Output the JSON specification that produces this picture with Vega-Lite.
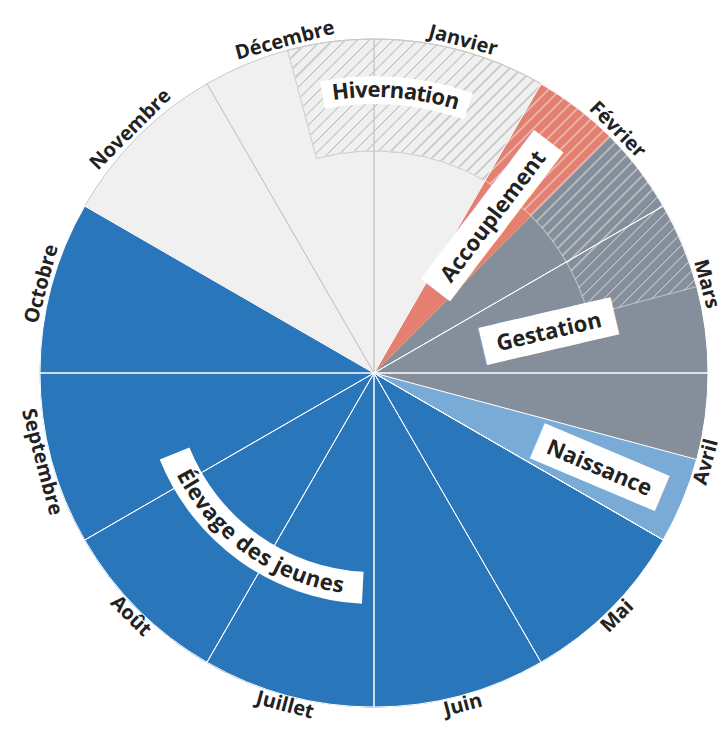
{
  "$schema": "https://vega.github.io/schema/vega-lite/v6.json",
  "width": 706,
  "height": 728,
  "autosize": {"type": "none"},
  "padding": {"left": 21, "top": 9, "right": 0, "bottom": 0},
  "background": "white",
  "config": {"view": {"stroke": null}},
  "resolve": {"scale": {"angle": "independent"}},
  "datasets": {
    "phases": [
      {"phase": "Repos", "start": 10, "end": 13},
      {"phase": "Élevage des jeunes", "start": 4, "end": 10},
      {"phase": "Naissance", "start": 3.5, "end": 4},
      {"phase": "Gestation", "start": 1.5, "end": 3.5},
      {"phase": "Accouplement", "start": 1, "end": 1.5}
    ],
    "hiver": [
      {"phase": "Hivernation", "start": -0.5, "end": 2.5, "inner": 0.665, "outer": 1}
    ],
    "months": [
      {"mois": "Janvier", "start": 0, "end": 1, "mid": 0.5},
      {"mois": "Février", "start": 1, "end": 2, "mid": 1.5},
      {"mois": "Mars", "start": 2, "end": 3, "mid": 2.5},
      {"mois": "Avril", "start": 3, "end": 4, "mid": 3.5},
      {"mois": "Mai", "start": 4, "end": 5, "mid": 4.5},
      {"mois": "Juin", "start": 5, "end": 6, "mid": 5.5},
      {"mois": "Juillet", "start": 6, "end": 7, "mid": 6.5},
      {"mois": "Août", "start": 7, "end": 8, "mid": 7.5},
      {"mois": "Septembre", "start": 8, "end": 9, "mid": 8.5},
      {"mois": "Octobre", "start": 9, "end": 10, "mid": 9.5},
      {"mois": "Novembre", "start": 10, "end": 11, "mid": 10.5},
      {"mois": "Décembre", "start": 11, "end": 12, "mid": 11.5}
    ],
    "bandeaux": [
      {"label": "Hivernation", "start": -0.35, "end": 0.65, "inner": 0.805, "outer": 0.888},
      {"label": "Élevage des jeunes", "start": 6.1, "end": 8.267, "inner": 0.596, "outer": 0.692}
    ],
    "etiquettes": [
      {"texte": "Accouplement", "t": 1.245, "r": 0.589},
      {"texte": "Gestation", "t": 2.562, "r": 0.538},
      {"texte": "Naissance", "t": 3.763, "r": 0.732}
    ],
    "lettres": [
      {"mot": "Hivernation", "lettre": "H", "t": -0.2259, "r": 0.847},
      {"mot": "Hivernation", "lettre": "i", "t": -0.1475, "r": 0.847},
      {"mot": "Hivernation", "lettre": "v", "t": -0.0854, "r": 0.847},
      {"mot": "Hivernation", "lettre": "e", "t": -0.0003, "r": 0.847},
      {"mot": "Hivernation", "lettre": "r", "t": 0.0754, "r": 0.847},
      {"mot": "Hivernation", "lettre": "n", "t": 0.1557, "r": 0.847},
      {"mot": "Hivernation", "lettre": "a", "t": 0.2489, "r": 0.847},
      {"mot": "Hivernation", "lettre": "t", "t": 0.3222, "r": 0.847},
      {"mot": "Hivernation", "lettre": "i", "t": 0.3719, "r": 0.847},
      {"mot": "Hivernation", "lettre": "o", "t": 0.4394, "r": 0.847},
      {"mot": "Hivernation", "lettre": "n", "t": 0.5345, "r": 0.847},
      {"mot": "Élevage des jeunes", "lettre": "É", "t": 8.0417, "r": 0.644},
      {"mot": "Élevage des jeunes", "lettre": "l", "t": 7.957, "r": 0.644},
      {"mot": "Élevage des jeunes", "lettre": "e", "t": 7.8717, "r": 0.644},
      {"mot": "Élevage des jeunes", "lettre": "v", "t": 7.7597, "r": 0.644},
      {"mot": "Élevage des jeunes", "lettre": "a", "t": 7.647, "r": 0.644},
      {"mot": "Élevage des jeunes", "lettre": "g", "t": 7.5317, "r": 0.644},
      {"mot": "Élevage des jeunes", "lettre": "e", "t": 7.417, "r": 0.644},
      {"mot": "Élevage des jeunes", "lettre": "d", "t": 7.2423, "r": 0.644},
      {"mot": "Élevage des jeunes", "lettre": "e", "t": 7.121, "r": 0.644},
      {"mot": "Élevage des jeunes", "lettre": "s", "t": 7.013, "r": 0.644},
      {"mot": "Élevage des jeunes", "lettre": "j", "t": 6.8823, "r": 0.644},
      {"mot": "Élevage des jeunes", "lettre": "e", "t": 6.797, "r": 0.644},
      {"mot": "Élevage des jeunes", "lettre": "u", "t": 6.6753, "r": 0.644},
      {"mot": "Élevage des jeunes", "lettre": "n", "t": 6.5477, "r": 0.644},
      {"mot": "Élevage des jeunes", "lettre": "e", "t": 6.426, "r": 0.644},
      {"mot": "Élevage des jeunes", "lettre": "s", "t": 6.318, "r": 0.644}
    ]
  },
  "layer": [
    {
      "data": {"name": "phases"},
      "transform": [{"filter": "datum.phase === 'Repos'"}],
      "mark": {"type": "arc"},
      "encoding": {
        "theta": {"field": "start", "type": "quantitative", "stack": null, "scale": {"type": "linear", "domain": [0, 12], "range": [0, 6.283185307179586], "nice": false, "zero": false}},
        "theta2": {"field": "end"},
        "radius": {"datum": 1, "type": "quantitative", "scale": {"type": "linear", "domain": [0, 1], "range": [0, 334], "nice": false, "zero": true}},
        "color": {"field": "phase", "type": "nominal", "legend": null, "scale": {"domain": ["Repos", "Accouplement", "Gestation", "Naissance", "Élevage des jeunes"], "range": ["#f0f0f0", "#e58070", "#858f9c", "#7aaad6", "#2a76bb"]}}
      }
    },
    {
      "data": {"name": "hiver"},
      "mark": {"type": "arc", "stroke": "#b0b0b0", "strokeWidth": 1,
        "fill": {"gradient": "linear", "x1": 0, "y1": 0, "x2": 1.15, "y2": 0.7775, "stops": [
          {"offset":0,"color":"#b4b4b400"},
          {"offset":0.0137,"color":"#b4b4b400"},{"offset":0.0137,"color":"#b4b4b4"},{"offset":0.0175,"color":"#b4b4b4"},{"offset":0.0175,"color":"#b4b4b400"},
          {"offset":0.0312,"color":"#b4b4b400"},{"offset":0.0312,"color":"#b4b4b4"},{"offset":0.0351,"color":"#b4b4b4"},{"offset":0.0351,"color":"#b4b4b400"},
          {"offset":0.0488,"color":"#b4b4b400"},{"offset":0.0488,"color":"#b4b4b4"},{"offset":0.0526,"color":"#b4b4b4"},{"offset":0.0526,"color":"#b4b4b400"},
          {"offset":0.0663,"color":"#b4b4b400"},{"offset":0.0663,"color":"#b4b4b4"},{"offset":0.0702,"color":"#b4b4b4"},{"offset":0.0702,"color":"#b4b4b400"},
          {"offset":0.0839,"color":"#b4b4b400"},{"offset":0.0839,"color":"#b4b4b4"},{"offset":0.0877,"color":"#b4b4b4"},{"offset":0.0877,"color":"#b4b4b400"},
          {"offset":0.1014,"color":"#b4b4b400"},{"offset":0.1014,"color":"#b4b4b4"},{"offset":0.1053,"color":"#b4b4b4"},{"offset":0.1053,"color":"#b4b4b400"},
          {"offset":0.1189,"color":"#b4b4b400"},{"offset":0.1189,"color":"#b4b4b4"},{"offset":0.1228,"color":"#b4b4b4"},{"offset":0.1228,"color":"#b4b4b400"},
          {"offset":0.1365,"color":"#b4b4b400"},{"offset":0.1365,"color":"#b4b4b4"},{"offset":0.1404,"color":"#b4b4b4"},{"offset":0.1404,"color":"#b4b4b400"},
          {"offset":0.1540,"color":"#b4b4b400"},{"offset":0.1540,"color":"#b4b4b4"},{"offset":0.1579,"color":"#b4b4b4"},{"offset":0.1579,"color":"#b4b4b400"},
          {"offset":0.1716,"color":"#b4b4b400"},{"offset":0.1716,"color":"#b4b4b4"},{"offset":0.1754,"color":"#b4b4b4"},{"offset":0.1754,"color":"#b4b4b400"},
          {"offset":0.1891,"color":"#b4b4b400"},{"offset":0.1891,"color":"#b4b4b4"},{"offset":0.1930,"color":"#b4b4b4"},{"offset":0.1930,"color":"#b4b4b400"},
          {"offset":0.2067,"color":"#b4b4b400"},{"offset":0.2067,"color":"#b4b4b4"},{"offset":0.2105,"color":"#b4b4b4"},{"offset":0.2105,"color":"#b4b4b400"},
          {"offset":0.2242,"color":"#b4b4b400"},{"offset":0.2242,"color":"#b4b4b4"},{"offset":0.2281,"color":"#b4b4b4"},{"offset":0.2281,"color":"#b4b4b400"},
          {"offset":0.2418,"color":"#b4b4b400"},{"offset":0.2418,"color":"#b4b4b4"},{"offset":0.2456,"color":"#b4b4b4"},{"offset":0.2456,"color":"#b4b4b400"},
          {"offset":0.2593,"color":"#b4b4b400"},{"offset":0.2593,"color":"#b4b4b4"},{"offset":0.2632,"color":"#b4b4b4"},{"offset":0.2632,"color":"#b4b4b400"},
          {"offset":0.2768,"color":"#b4b4b400"},{"offset":0.2768,"color":"#b4b4b4"},{"offset":0.2807,"color":"#b4b4b4"},{"offset":0.2807,"color":"#b4b4b400"},
          {"offset":0.2944,"color":"#b4b4b400"},{"offset":0.2944,"color":"#b4b4b4"},{"offset":0.2982,"color":"#b4b4b4"},{"offset":0.2982,"color":"#b4b4b400"},
          {"offset":0.3119,"color":"#b4b4b400"},{"offset":0.3119,"color":"#b4b4b4"},{"offset":0.3158,"color":"#b4b4b4"},{"offset":0.3158,"color":"#b4b4b400"},
          {"offset":0.3295,"color":"#b4b4b400"},{"offset":0.3295,"color":"#b4b4b4"},{"offset":0.3333,"color":"#b4b4b4"},{"offset":0.3333,"color":"#b4b4b400"},
          {"offset":0.3470,"color":"#b4b4b400"},{"offset":0.3470,"color":"#b4b4b4"},{"offset":0.3509,"color":"#b4b4b4"},{"offset":0.3509,"color":"#b4b4b400"},
          {"offset":0.3646,"color":"#b4b4b400"},{"offset":0.3646,"color":"#b4b4b4"},{"offset":0.3684,"color":"#b4b4b4"},{"offset":0.3684,"color":"#b4b4b400"},
          {"offset":0.3821,"color":"#b4b4b400"},{"offset":0.3821,"color":"#b4b4b4"},{"offset":0.3860,"color":"#b4b4b4"},{"offset":0.3860,"color":"#b4b4b400"},
          {"offset":0.3996,"color":"#b4b4b400"},{"offset":0.3996,"color":"#b4b4b4"},{"offset":0.4035,"color":"#b4b4b4"},{"offset":0.4035,"color":"#b4b4b400"},
          {"offset":0.4172,"color":"#b4b4b400"},{"offset":0.4172,"color":"#b4b4b4"},{"offset":0.4211,"color":"#b4b4b4"},{"offset":0.4211,"color":"#b4b4b400"},
          {"offset":0.4347,"color":"#b4b4b400"},{"offset":0.4347,"color":"#b4b4b4"},{"offset":0.4386,"color":"#b4b4b4"},{"offset":0.4386,"color":"#b4b4b400"},
          {"offset":0.4523,"color":"#b4b4b400"},{"offset":0.4523,"color":"#b4b4b4"},{"offset":0.4561,"color":"#b4b4b4"},{"offset":0.4561,"color":"#b4b4b400"},
          {"offset":0.4698,"color":"#b4b4b400"},{"offset":0.4698,"color":"#b4b4b4"},{"offset":0.4737,"color":"#b4b4b4"},{"offset":0.4737,"color":"#b4b4b400"},
          {"offset":0.4874,"color":"#b4b4b400"},{"offset":0.4874,"color":"#b4b4b4"},{"offset":0.4912,"color":"#b4b4b4"},{"offset":0.4912,"color":"#b4b4b400"},
          {"offset":0.5049,"color":"#b4b4b400"},{"offset":0.5049,"color":"#b4b4b4"},{"offset":0.5088,"color":"#b4b4b4"},{"offset":0.5088,"color":"#b4b4b400"},
          {"offset":0.5225,"color":"#b4b4b400"},{"offset":0.5225,"color":"#b4b4b4"},{"offset":0.5263,"color":"#b4b4b4"},{"offset":0.5263,"color":"#b4b4b400"},
          {"offset":0.5400,"color":"#b4b4b400"},{"offset":0.5400,"color":"#b4b4b4"},{"offset":0.5439,"color":"#b4b4b4"},{"offset":0.5439,"color":"#b4b4b400"},
          {"offset":0.5575,"color":"#b4b4b400"},{"offset":0.5575,"color":"#b4b4b4"},{"offset":0.5614,"color":"#b4b4b4"},{"offset":0.5614,"color":"#b4b4b400"},
          {"offset":0.5751,"color":"#b4b4b400"},{"offset":0.5751,"color":"#b4b4b4"},{"offset":0.5789,"color":"#b4b4b4"},{"offset":0.5789,"color":"#b4b4b400"},
          {"offset":0.5926,"color":"#b4b4b400"},{"offset":0.5926,"color":"#b4b4b4"},{"offset":0.5965,"color":"#b4b4b4"},{"offset":0.5965,"color":"#b4b4b400"},
          {"offset":0.6102,"color":"#b4b4b400"},{"offset":0.6102,"color":"#b4b4b4"},{"offset":0.6140,"color":"#b4b4b4"},{"offset":0.6140,"color":"#b4b4b400"},
          {"offset":0.6277,"color":"#b4b4b400"},{"offset":0.6277,"color":"#b4b4b4"},{"offset":0.6316,"color":"#b4b4b4"},{"offset":0.6316,"color":"#b4b4b400"},
          {"offset":0.6453,"color":"#b4b4b400"},{"offset":0.6453,"color":"#b4b4b4"},{"offset":0.6491,"color":"#b4b4b4"},{"offset":0.6491,"color":"#b4b4b400"},
          {"offset":0.6628,"color":"#b4b4b400"},{"offset":0.6628,"color":"#b4b4b4"},{"offset":0.6667,"color":"#b4b4b4"},{"offset":0.6667,"color":"#b4b4b400"},
          {"offset":0.6803,"color":"#b4b4b400"},{"offset":0.6803,"color":"#b4b4b4"},{"offset":0.6842,"color":"#b4b4b4"},{"offset":0.6842,"color":"#b4b4b400"},
          {"offset":0.6979,"color":"#b4b4b400"},{"offset":0.6979,"color":"#b4b4b4"},{"offset":0.7018,"color":"#b4b4b4"},{"offset":0.7018,"color":"#b4b4b400"},
          {"offset":0.7154,"color":"#b4b4b400"},{"offset":0.7154,"color":"#b4b4b4"},{"offset":0.7193,"color":"#b4b4b4"},{"offset":0.7193,"color":"#b4b4b400"},
          {"offset":0.7330,"color":"#b4b4b400"},{"offset":0.7330,"color":"#b4b4b4"},{"offset":0.7368,"color":"#b4b4b4"},{"offset":0.7368,"color":"#b4b4b400"},
          {"offset":0.7505,"color":"#b4b4b400"},{"offset":0.7505,"color":"#b4b4b4"},{"offset":0.7544,"color":"#b4b4b4"},{"offset":0.7544,"color":"#b4b4b400"},
          {"offset":0.7681,"color":"#b4b4b400"},{"offset":0.7681,"color":"#b4b4b4"},{"offset":0.7719,"color":"#b4b4b4"},{"offset":0.7719,"color":"#b4b4b400"},
          {"offset":0.7856,"color":"#b4b4b400"},{"offset":0.7856,"color":"#b4b4b4"},{"offset":0.7895,"color":"#b4b4b4"},{"offset":0.7895,"color":"#b4b4b400"},
          {"offset":0.8032,"color":"#b4b4b400"},{"offset":0.8032,"color":"#b4b4b4"},{"offset":0.8070,"color":"#b4b4b4"},{"offset":0.8070,"color":"#b4b4b400"},
          {"offset":0.8207,"color":"#b4b4b400"},{"offset":0.8207,"color":"#b4b4b4"},{"offset":0.8246,"color":"#b4b4b4"},{"offset":0.8246,"color":"#b4b4b400"},
          {"offset":0.8382,"color":"#b4b4b400"},{"offset":0.8382,"color":"#b4b4b4"},{"offset":0.8421,"color":"#b4b4b4"},{"offset":0.8421,"color":"#b4b4b400"},
          {"offset":0.8558,"color":"#b4b4b400"},{"offset":0.8558,"color":"#b4b4b4"},{"offset":0.8596,"color":"#b4b4b4"},{"offset":0.8596,"color":"#b4b4b400"},
          {"offset":0.8733,"color":"#b4b4b400"},{"offset":0.8733,"color":"#b4b4b4"},{"offset":0.8772,"color":"#b4b4b4"},{"offset":0.8772,"color":"#b4b4b400"},
          {"offset":0.8909,"color":"#b4b4b400"},{"offset":0.8909,"color":"#b4b4b4"},{"offset":0.8947,"color":"#b4b4b4"},{"offset":0.8947,"color":"#b4b4b400"},
          {"offset":0.9084,"color":"#b4b4b400"},{"offset":0.9084,"color":"#b4b4b4"},{"offset":0.9123,"color":"#b4b4b4"},{"offset":0.9123,"color":"#b4b4b400"},
          {"offset":0.9260,"color":"#b4b4b400"},{"offset":0.9260,"color":"#b4b4b4"},{"offset":0.9298,"color":"#b4b4b4"},{"offset":0.9298,"color":"#b4b4b400"},
          {"offset":0.9435,"color":"#b4b4b400"},{"offset":0.9435,"color":"#b4b4b4"},{"offset":0.9474,"color":"#b4b4b4"},{"offset":0.9474,"color":"#b4b4b400"},
          {"offset":0.9610,"color":"#b4b4b400"},{"offset":0.9610,"color":"#b4b4b4"},{"offset":0.9649,"color":"#b4b4b4"},{"offset":0.9649,"color":"#b4b4b400"},
          {"offset":0.9786,"color":"#b4b4b400"},{"offset":0.9786,"color":"#b4b4b4"},{"offset":0.9825,"color":"#b4b4b4"},{"offset":0.9825,"color":"#b4b4b400"},
          {"offset":0.9961,"color":"#b4b4b400"},{"offset":0.9961,"color":"#b4b4b4"},{"offset":1,"color":"#b4b4b4"}
        ]}
      },
      "encoding": {
        "theta": {"field": "start", "type": "quantitative", "stack": null, "scale": {"type": "linear", "domain": [0, 12], "range": [0, 6.283185307179586], "nice": false, "zero": false}},
        "theta2": {"field": "end"},
        "radius": {"field": "outer", "type": "quantitative", "scale": {"type": "linear", "domain": [0, 1], "range": [0, 334], "nice": false, "zero": true}},
        "radius2": {"field": "inner"}
      }
    },
    {
      "data": {"name": "phases"},
      "transform": [{"filter": "datum.phase !== 'Repos'"}],
      "mark": {"type": "arc"},
      "encoding": {
        "theta": {"field": "start", "type": "quantitative", "stack": null},
        "theta2": {"field": "end"},
        "radius": {"datum": 1, "type": "quantitative"},
        "color": {"field": "phase", "type": "nominal", "legend": null}
      }
    },
    {
      "data": {"name": "hiver"},
      "mark": {"type": "arc", "stroke": "#ffffff66", "strokeWidth": 1.2,
        "fill": {"gradient": "linear", "x1": 0, "y1": 0, "x2": 1.15, "y2": 0.7775, "stops": [
          {"offset":0,"color":"#ffffff00"},
          {"offset":0.0137,"color":"#ffffff00"},{"offset":0.0137,"color":"#ffffff59"},{"offset":0.0175,"color":"#ffffff59"},{"offset":0.0175,"color":"#ffffff00"},
          {"offset":0.0312,"color":"#ffffff00"},{"offset":0.0312,"color":"#ffffff59"},{"offset":0.0351,"color":"#ffffff59"},{"offset":0.0351,"color":"#ffffff00"},
          {"offset":0.0488,"color":"#ffffff00"},{"offset":0.0488,"color":"#ffffff59"},{"offset":0.0526,"color":"#ffffff59"},{"offset":0.0526,"color":"#ffffff00"},
          {"offset":0.0663,"color":"#ffffff00"},{"offset":0.0663,"color":"#ffffff59"},{"offset":0.0702,"color":"#ffffff59"},{"offset":0.0702,"color":"#ffffff00"},
          {"offset":0.0839,"color":"#ffffff00"},{"offset":0.0839,"color":"#ffffff59"},{"offset":0.0877,"color":"#ffffff59"},{"offset":0.0877,"color":"#ffffff00"},
          {"offset":0.1014,"color":"#ffffff00"},{"offset":0.1014,"color":"#ffffff59"},{"offset":0.1053,"color":"#ffffff59"},{"offset":0.1053,"color":"#ffffff00"},
          {"offset":0.1189,"color":"#ffffff00"},{"offset":0.1189,"color":"#ffffff59"},{"offset":0.1228,"color":"#ffffff59"},{"offset":0.1228,"color":"#ffffff00"},
          {"offset":0.1365,"color":"#ffffff00"},{"offset":0.1365,"color":"#ffffff59"},{"offset":0.1404,"color":"#ffffff59"},{"offset":0.1404,"color":"#ffffff00"},
          {"offset":0.1540,"color":"#ffffff00"},{"offset":0.1540,"color":"#ffffff59"},{"offset":0.1579,"color":"#ffffff59"},{"offset":0.1579,"color":"#ffffff00"},
          {"offset":0.1716,"color":"#ffffff00"},{"offset":0.1716,"color":"#ffffff59"},{"offset":0.1754,"color":"#ffffff59"},{"offset":0.1754,"color":"#ffffff00"},
          {"offset":0.1891,"color":"#ffffff00"},{"offset":0.1891,"color":"#ffffff59"},{"offset":0.1930,"color":"#ffffff59"},{"offset":0.1930,"color":"#ffffff00"},
          {"offset":0.2067,"color":"#ffffff00"},{"offset":0.2067,"color":"#ffffff59"},{"offset":0.2105,"color":"#ffffff59"},{"offset":0.2105,"color":"#ffffff00"},
          {"offset":0.2242,"color":"#ffffff00"},{"offset":0.2242,"color":"#ffffff59"},{"offset":0.2281,"color":"#ffffff59"},{"offset":0.2281,"color":"#ffffff00"},
          {"offset":0.2418,"color":"#ffffff00"},{"offset":0.2418,"color":"#ffffff59"},{"offset":0.2456,"color":"#ffffff59"},{"offset":0.2456,"color":"#ffffff00"},
          {"offset":0.2593,"color":"#ffffff00"},{"offset":0.2593,"color":"#ffffff59"},{"offset":0.2632,"color":"#ffffff59"},{"offset":0.2632,"color":"#ffffff00"},
          {"offset":0.2768,"color":"#ffffff00"},{"offset":0.2768,"color":"#ffffff59"},{"offset":0.2807,"color":"#ffffff59"},{"offset":0.2807,"color":"#ffffff00"},
          {"offset":0.2944,"color":"#ffffff00"},{"offset":0.2944,"color":"#ffffff59"},{"offset":0.2982,"color":"#ffffff59"},{"offset":0.2982,"color":"#ffffff00"},
          {"offset":0.3119,"color":"#ffffff00"},{"offset":0.3119,"color":"#ffffff59"},{"offset":0.3158,"color":"#ffffff59"},{"offset":0.3158,"color":"#ffffff00"},
          {"offset":0.3295,"color":"#ffffff00"},{"offset":0.3295,"color":"#ffffff59"},{"offset":0.3333,"color":"#ffffff59"},{"offset":0.3333,"color":"#ffffff00"},
          {"offset":0.3470,"color":"#ffffff00"},{"offset":0.3470,"color":"#ffffff59"},{"offset":0.3509,"color":"#ffffff59"},{"offset":0.3509,"color":"#ffffff00"},
          {"offset":0.3646,"color":"#ffffff00"},{"offset":0.3646,"color":"#ffffff59"},{"offset":0.3684,"color":"#ffffff59"},{"offset":0.3684,"color":"#ffffff00"},
          {"offset":0.3821,"color":"#ffffff00"},{"offset":0.3821,"color":"#ffffff59"},{"offset":0.3860,"color":"#ffffff59"},{"offset":0.3860,"color":"#ffffff00"},
          {"offset":0.3996,"color":"#ffffff00"},{"offset":0.3996,"color":"#ffffff59"},{"offset":0.4035,"color":"#ffffff59"},{"offset":0.4035,"color":"#ffffff00"},
          {"offset":0.4172,"color":"#ffffff00"},{"offset":0.4172,"color":"#ffffff59"},{"offset":0.4211,"color":"#ffffff59"},{"offset":0.4211,"color":"#ffffff00"},
          {"offset":0.4347,"color":"#ffffff00"},{"offset":0.4347,"color":"#ffffff59"},{"offset":0.4386,"color":"#ffffff59"},{"offset":0.4386,"color":"#ffffff00"},
          {"offset":0.4523,"color":"#ffffff00"},{"offset":0.4523,"color":"#ffffff59"},{"offset":0.4561,"color":"#ffffff59"},{"offset":0.4561,"color":"#ffffff00"},
          {"offset":0.4698,"color":"#ffffff00"},{"offset":0.4698,"color":"#ffffff59"},{"offset":0.4737,"color":"#ffffff59"},{"offset":0.4737,"color":"#ffffff00"},
          {"offset":0.4874,"color":"#ffffff00"},{"offset":0.4874,"color":"#ffffff59"},{"offset":0.4912,"color":"#ffffff59"},{"offset":0.4912,"color":"#ffffff00"},
          {"offset":0.5049,"color":"#ffffff00"},{"offset":0.5049,"color":"#ffffff59"},{"offset":0.5088,"color":"#ffffff59"},{"offset":0.5088,"color":"#ffffff00"},
          {"offset":0.5225,"color":"#ffffff00"},{"offset":0.5225,"color":"#ffffff59"},{"offset":0.5263,"color":"#ffffff59"},{"offset":0.5263,"color":"#ffffff00"},
          {"offset":0.5400,"color":"#ffffff00"},{"offset":0.5400,"color":"#ffffff59"},{"offset":0.5439,"color":"#ffffff59"},{"offset":0.5439,"color":"#ffffff00"},
          {"offset":0.5575,"color":"#ffffff00"},{"offset":0.5575,"color":"#ffffff59"},{"offset":0.5614,"color":"#ffffff59"},{"offset":0.5614,"color":"#ffffff00"},
          {"offset":0.5751,"color":"#ffffff00"},{"offset":0.5751,"color":"#ffffff59"},{"offset":0.5789,"color":"#ffffff59"},{"offset":0.5789,"color":"#ffffff00"},
          {"offset":0.5926,"color":"#ffffff00"},{"offset":0.5926,"color":"#ffffff59"},{"offset":0.5965,"color":"#ffffff59"},{"offset":0.5965,"color":"#ffffff00"},
          {"offset":0.6102,"color":"#ffffff00"},{"offset":0.6102,"color":"#ffffff59"},{"offset":0.6140,"color":"#ffffff59"},{"offset":0.6140,"color":"#ffffff00"},
          {"offset":0.6277,"color":"#ffffff00"},{"offset":0.6277,"color":"#ffffff59"},{"offset":0.6316,"color":"#ffffff59"},{"offset":0.6316,"color":"#ffffff00"},
          {"offset":0.6453,"color":"#ffffff00"},{"offset":0.6453,"color":"#ffffff59"},{"offset":0.6491,"color":"#ffffff59"},{"offset":0.6491,"color":"#ffffff00"},
          {"offset":0.6628,"color":"#ffffff00"},{"offset":0.6628,"color":"#ffffff59"},{"offset":0.6667,"color":"#ffffff59"},{"offset":0.6667,"color":"#ffffff00"},
          {"offset":0.6803,"color":"#ffffff00"},{"offset":0.6803,"color":"#ffffff59"},{"offset":0.6842,"color":"#ffffff59"},{"offset":0.6842,"color":"#ffffff00"},
          {"offset":0.6979,"color":"#ffffff00"},{"offset":0.6979,"color":"#ffffff59"},{"offset":0.7018,"color":"#ffffff59"},{"offset":0.7018,"color":"#ffffff00"},
          {"offset":0.7154,"color":"#ffffff00"},{"offset":0.7154,"color":"#ffffff59"},{"offset":0.7193,"color":"#ffffff59"},{"offset":0.7193,"color":"#ffffff00"},
          {"offset":0.7330,"color":"#ffffff00"},{"offset":0.7330,"color":"#ffffff59"},{"offset":0.7368,"color":"#ffffff59"},{"offset":0.7368,"color":"#ffffff00"},
          {"offset":0.7505,"color":"#ffffff00"},{"offset":0.7505,"color":"#ffffff59"},{"offset":0.7544,"color":"#ffffff59"},{"offset":0.7544,"color":"#ffffff00"},
          {"offset":0.7681,"color":"#ffffff00"},{"offset":0.7681,"color":"#ffffff59"},{"offset":0.7719,"color":"#ffffff59"},{"offset":0.7719,"color":"#ffffff00"},
          {"offset":0.7856,"color":"#ffffff00"},{"offset":0.7856,"color":"#ffffff59"},{"offset":0.7895,"color":"#ffffff59"},{"offset":0.7895,"color":"#ffffff00"},
          {"offset":0.8032,"color":"#ffffff00"},{"offset":0.8032,"color":"#ffffff59"},{"offset":0.8070,"color":"#ffffff59"},{"offset":0.8070,"color":"#ffffff00"},
          {"offset":0.8207,"color":"#ffffff00"},{"offset":0.8207,"color":"#ffffff59"},{"offset":0.8246,"color":"#ffffff59"},{"offset":0.8246,"color":"#ffffff00"},
          {"offset":0.8382,"color":"#ffffff00"},{"offset":0.8382,"color":"#ffffff59"},{"offset":0.8421,"color":"#ffffff59"},{"offset":0.8421,"color":"#ffffff00"},
          {"offset":0.8558,"color":"#ffffff00"},{"offset":0.8558,"color":"#ffffff59"},{"offset":0.8596,"color":"#ffffff59"},{"offset":0.8596,"color":"#ffffff00"},
          {"offset":0.8733,"color":"#ffffff00"},{"offset":0.8733,"color":"#ffffff59"},{"offset":0.8772,"color":"#ffffff59"},{"offset":0.8772,"color":"#ffffff00"},
          {"offset":0.8909,"color":"#ffffff00"},{"offset":0.8909,"color":"#ffffff59"},{"offset":0.8947,"color":"#ffffff59"},{"offset":0.8947,"color":"#ffffff00"},
          {"offset":0.9084,"color":"#ffffff00"},{"offset":0.9084,"color":"#ffffff59"},{"offset":0.9123,"color":"#ffffff59"},{"offset":0.9123,"color":"#ffffff00"},
          {"offset":0.9260,"color":"#ffffff00"},{"offset":0.9260,"color":"#ffffff59"},{"offset":0.9298,"color":"#ffffff59"},{"offset":0.9298,"color":"#ffffff00"},
          {"offset":0.9435,"color":"#ffffff00"},{"offset":0.9435,"color":"#ffffff59"},{"offset":0.9474,"color":"#ffffff59"},{"offset":0.9474,"color":"#ffffff00"},
          {"offset":0.9610,"color":"#ffffff00"},{"offset":0.9610,"color":"#ffffff59"},{"offset":0.9649,"color":"#ffffff59"},{"offset":0.9649,"color":"#ffffff00"},
          {"offset":0.9786,"color":"#ffffff00"},{"offset":0.9786,"color":"#ffffff59"},{"offset":0.9825,"color":"#ffffff59"},{"offset":0.9825,"color":"#ffffff00"},
          {"offset":0.9961,"color":"#ffffff00"},{"offset":0.9961,"color":"#ffffff59"},{"offset":1,"color":"#ffffff59"}
        ]}
      },
      "encoding": {
        "theta": {"field": "start", "type": "quantitative", "stack": null},
        "theta2": {"field": "end"},
        "radius": {"field": "outer", "type": "quantitative"},
        "radius2": {"field": "inner"}
      }
    },
    {
      "data": {"name": "months"},
      "transform": [{"filter": "datum.start >= 10 || datum.start < 1"}],
      "mark": {"type": "arc", "fill": null, "fillOpacity": 0, "stroke": "#c8c8c8", "strokeWidth": 1},
      "encoding": {
        "theta": {"field": "start", "type": "quantitative", "stack": null},
        "theta2": {"field": "end"},
        "radius": {"datum": 1, "type": "quantitative"}
      }
    },
    {
      "data": {"name": "months"},
      "transform": [{"filter": "datum.start >= 1 && datum.start < 10"}],
      "mark": {"type": "arc", "fill": null, "fillOpacity": 0, "stroke": "#ffffff", "strokeWidth": 1},
      "encoding": {
        "theta": {"field": "start", "type": "quantitative", "stack": null},
        "theta2": {"field": "end"},
        "radius": {"datum": 1, "type": "quantitative"}
      }
    },
    {
      "data": {"name": "phases"},
      "transform": [{"filter": "datum.phase === 'Naissance'"}],
      "mark": {"type": "arc", "fill": null, "fillOpacity": 0, "stroke": "#ffffff", "strokeWidth": 1},
      "encoding": {
        "theta": {"field": "start", "type": "quantitative", "stack": null},
        "theta2": {"field": "end"},
        "radius": {"datum": 1, "type": "quantitative"}
      }
    },
    {
      "data": {"name": "bandeaux"},
      "mark": {"type": "arc", "fill": "#ffffff"},
      "encoding": {
        "theta": {"field": "start", "type": "quantitative", "stack": null},
        "theta2": {"field": "end"},
        "radius": {"field": "outer", "type": "quantitative"},
        "radius2": {"field": "inner"}
      }
    },
    {
      "data": {"name": "etiquettes"},
      "transform": [{"filter": "datum.texte === 'Accouplement'"}],
      "mark": {"type": "text", "text": "██████████", "font": "DejaVu Sans Mono", "fontSize": 31, "fill": "#ffffff", "align": "center", "baseline": "middle"},
      "encoding": {
        "theta": {"field": "t", "type": "quantitative", "stack": null},
        "radius": {"field": "r", "type": "quantitative"},
        "angle": {"field": "t", "type": "quantitative", "scale": {"domain": [0, 12], "range": [-90, 270]}}
      }
    },
    {
      "data": {"name": "etiquettes"},
      "transform": [{"filter": "datum.texte !== 'Accouplement'"}],
      "mark": {"type": "text", "text": "███████", "font": "DejaVu Sans Mono", "fontSize": 32, "fill": "#ffffff", "align": "center", "baseline": "middle"},
      "encoding": {
        "theta": {"field": "t", "type": "quantitative", "stack": null},
        "radius": {"field": "r", "type": "quantitative"},
        "angle": {"field": "t", "type": "quantitative", "scale": {"domain": [0, 12], "range": [-90, 270]}}
      }
    },
    {
      "data": {"name": "etiquettes"},
      "mark": {"type": "text", "font": "Open Sans", "fontWeight": 700, "fontSize": 22, "fill": "#222222", "align": "center", "baseline": "middle"},
      "encoding": {
        "text": {"field": "texte"},
        "theta": {"field": "t", "type": "quantitative", "stack": null},
        "radius": {"field": "r", "type": "quantitative"},
        "angle": {"field": "t", "type": "quantitative", "scale": {"domain": [0, 12], "range": [-90, 270]}}
      }
    },
    {
      "data": {"name": "lettres"},
      "transform": [{"filter": "datum.mot === 'Hivernation'"}],
      "mark": {"type": "text", "font": "Open Sans", "fontWeight": 700, "fontSize": 22, "fill": "#222222", "align": "center", "baseline": "middle"},
      "encoding": {
        "text": {"field": "lettre"},
        "theta": {"field": "t", "type": "quantitative", "stack": null},
        "radius": {"field": "r", "type": "quantitative"},
        "angle": {"field": "t", "type": "quantitative", "scale": {"domain": [0, 12], "range": [0, 360]}}
      }
    },
    {
      "data": {"name": "lettres"},
      "transform": [{"filter": "datum.mot !== 'Hivernation'"}],
      "mark": {"type": "text", "font": "Open Sans", "fontWeight": 700, "fontSize": 22, "fill": "#222222", "align": "center", "baseline": "middle"},
      "encoding": {
        "text": {"field": "lettre"},
        "theta": {"field": "t", "type": "quantitative", "stack": null},
        "radius": {"field": "r", "type": "quantitative"},
        "angle": {"field": "t", "type": "quantitative", "scale": {"domain": [0, 12], "range": [-180, 180]}}
      }
    },
    {
      "data": {"name": "months"},
      "transform": [{"filter": "datum.mid > 9 || datum.mid < 3"}],
      "mark": {"type": "text", "font": "Open Sans", "fontWeight": 700, "fontSize": 20, "fill": "#222222", "align": "center", "baseline": "middle"},
      "encoding": {
        "text": {"field": "mois"},
        "theta": {"field": "mid", "type": "quantitative", "stack": null},
        "radius": {"datum": 1.03, "type": "quantitative"},
        "angle": {"field": "mid", "type": "quantitative", "scale": {"domain": [0, 12], "range": [0, 360]}}
      }
    },
    {
      "data": {"name": "months"},
      "transform": [{"filter": "datum.mid > 3 && datum.mid < 9"}],
      "mark": {"type": "text", "font": "Open Sans", "fontWeight": 700, "fontSize": 20, "fill": "#222222", "align": "center", "baseline": "middle"},
      "encoding": {
        "text": {"field": "mois"},
        "theta": {"field": "mid", "type": "quantitative", "stack": null},
        "radius": {"datum": 1.03, "type": "quantitative"},
        "angle": {"field": "mid", "type": "quantitative", "scale": {"domain": [0, 12], "range": [-180, 180]}}
      }
    }
  ]
}
